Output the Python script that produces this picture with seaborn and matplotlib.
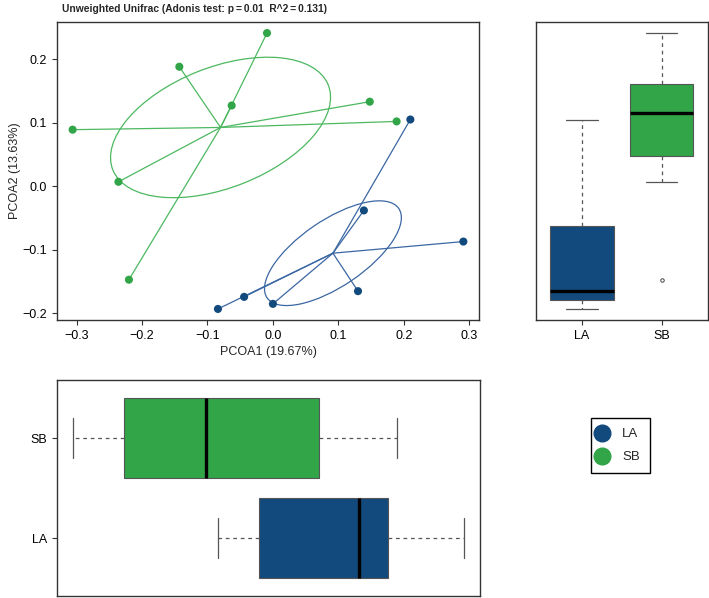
import numpy as np
import pandas as pd
import matplotlib
matplotlib.use('Agg')
import matplotlib.pyplot as plt
from matplotlib.patches import Ellipse
from matplotlib.lines import Line2D
import seaborn as sns

# PCoA coordinates
groups = ['LA', 'SB']
la_pc1 = [0.210, 0.139, 0.291, 0.130, 0.000, -0.044, -0.084]
la_pc2 = [0.105, -0.038, -0.087, -0.165, -0.185, -0.174, -0.193]
sb_pc1 = [-0.009, -0.143, -0.063, -0.306, -0.236, -0.220, 0.148, 0.189]
sb_pc2 = [0.241, 0.188, 0.127, 0.089, 0.007, -0.147, 0.133, 0.102]
ellipse_scale = [0.755, 0.93]   # ellipse size in sd units, per group
point_colors = ['#124a7e', '#31a548']
line_colors = ['#3b67a3', '#4cb860']

title = 'Unweighted Unifrac (Adonis test: p\u2009=\u20090.01  R^2\u2009=\u20090.131)'
xlab = 'PCOA1 (19.67%)'
ylab = 'PCOA2 (13.63%)'

df = pd.DataFrame({
    'group': ['LA'] * len(la_pc1) + ['SB'] * len(sb_pc1),
    'PC1': la_pc1 + sb_pc1,
    'PC2': la_pc2 + sb_pc2,
})

sns.set_style('ticks')
plt.rcParams['font.family'] = ['Liberation Sans', 'DejaVu Sans']
plt.rcParams['font.size'] = 9
plt.rcParams['axes.edgecolor'] = '#333333'
plt.rcParams['axes.linewidth'] = 1.0
plt.rcParams['xtick.color'] = '#333333'
plt.rcParams['ytick.color'] = '#333333'
plt.rcParams['xtick.labelcolor'] = 'black'
plt.rcParams['ytick.labelcolor'] = 'black'
plt.rcParams['xtick.major.size'] = 3.6
plt.rcParams['ytick.major.size'] = 3.6


def rng(v):
    lo, hi = min(v), max(v)
    pad = (hi - lo) * 0.04
    return lo - pad, hi + pad


def fivenum(v):
    v = np.sort(np.asarray(v))
    n = len(v)
    n4 = np.floor((n + 3) / 2) / 2
    d = np.array([1, n4, (n + 1) / 2, n + 1 - n4, n]) - 1
    return 0.5 * (v[np.floor(d).astype(int)] + v[np.ceil(d).astype(int)])


def box_stats(v, label):
    v = np.asarray(v)
    lo, q1, med, q3, hi = fivenum(v)
    iqr = q3 - q1
    ok = (v >= q1 - 1.5 * iqr) & (v <= q3 + 1.5 * iqr)
    return dict(label=label, q1=q1, med=med, q3=q3,
                whislo=v[ok].min(), whishi=v[ok].max(), fliers=v[~ok])


def draw_boxes(ax, col, orientation):
    stats = [box_stats(df.loc[df.group == g, col], g) for g in groups]
    bp = ax.bxp(stats, positions=[1, 2], widths=0.8, capwidths=0.4,
                orientation=orientation, patch_artist=True,
                boxprops=dict(edgecolor='#555555', linewidth=0.8),
                whiskerprops=dict(color='#555555', linewidth=0.9, linestyle=(0, (3, 3))),
                capprops=dict(color='#555555', linewidth=0.9),
                medianprops=dict(color='black', linewidth=2.4),
                flierprops=dict(marker='o', markersize=2.5, markerfacecolor='none',
                                markeredgecolor='#444444', markeredgewidth=0.7))
    for patch, c in zip(bp['boxes'], point_colors):
        patch.set_facecolor(c)


fig = plt.figure(figsize=(7.09, 5.98), dpi=100)
ax = fig.add_axes([0.0804, 0.4649, 0.5952, 0.4983])
ax_r = fig.add_axes([0.7556, 0.4649, 0.2426, 0.4983])
ax_b = fig.add_axes([0.0804, 0.003, 0.5966, 0.3610])

# main PCoA scatter with spiders and ellipses
for g, lc, k in zip(groups, line_colors, ellipse_scale):
    sub = df[df.group == g]
    cx, cy = sub.PC1.mean(), sub.PC2.mean()
    for x, y in zip(sub.PC1, sub.PC2):
        ax.plot([cx, x], [cy, y], color=lc, lw=0.9, zorder=2)
    cov = np.cov(sub.PC1, sub.PC2)
    vals, vecs = np.linalg.eigh(cov)
    angle = np.degrees(np.arctan2(vecs[1, 1], vecs[0, 1]))
    ax.add_patch(Ellipse((cx, cy), 2 * k * np.sqrt(vals[1]), 2 * k * np.sqrt(vals[0]),
                         angle=angle, fill=False, edgecolor=lc, lw=0.9, zorder=2))

sns.scatterplot(data=df, x='PC1', y='PC2', hue='group', palette=point_colors,
                hue_order=groups, s=34, edgecolor='none', legend=False, ax=ax, zorder=3)
ax.set_xlim(rng(df.PC1))
ax.set_ylim(rng(df.PC2))
ax.set_xticks([-0.3, -0.2, -0.1, 0.0, 0.1, 0.2, 0.3])
ax.set_yticks([-0.2, -0.1, 0.0, 0.1, 0.2])
ax.set_xlabel(xlab, labelpad=3)
ax.set_ylabel(ylab, labelpad=1)

# PC2 box plot on the right
draw_boxes(ax_r, 'PC2', 'vertical')
ax_r.set_ylim(ax.get_ylim())
ax_r.set_xlim(0.42, 2.58)
ax_r.set_xticks([1, 2], groups)
ax_r.set_yticks([])

# PC1 box plot at the bottom
draw_boxes(ax_b, 'PC1', 'horizontal')
ax_b.set_xlim(ax.get_xlim())
ax_b.set_ylim(0.42, 2.58)
ax_b.set_yticks([1, 2], groups)
ax_b.set_xticks([])

for a in (ax, ax_r, ax_b):
    for s in a.spines.values():
        s.set_visible(True)

handles = [Line2D([], [], marker='o', ls='none', color=c, markersize=12) for c in point_colors]
fig.legend(handles, groups, loc='upper left', bbox_to_anchor=(0.8336, 0.3005),
           borderaxespad=0, frameon=True, fancybox=False, edgecolor='black', framealpha=1,
           borderpad=0.75, handletextpad=1.5, labelspacing=0.8, handlelength=0.1,
           fontsize=9.5)

fig.text(0.274, 1 - 9 / 598, title, ha='center', va='center', fontsize=7.4,
         fontweight='bold', family=['Liberation Sans', 'DejaVu Sans'])

fig.savefig('out.png', dpi=100)
